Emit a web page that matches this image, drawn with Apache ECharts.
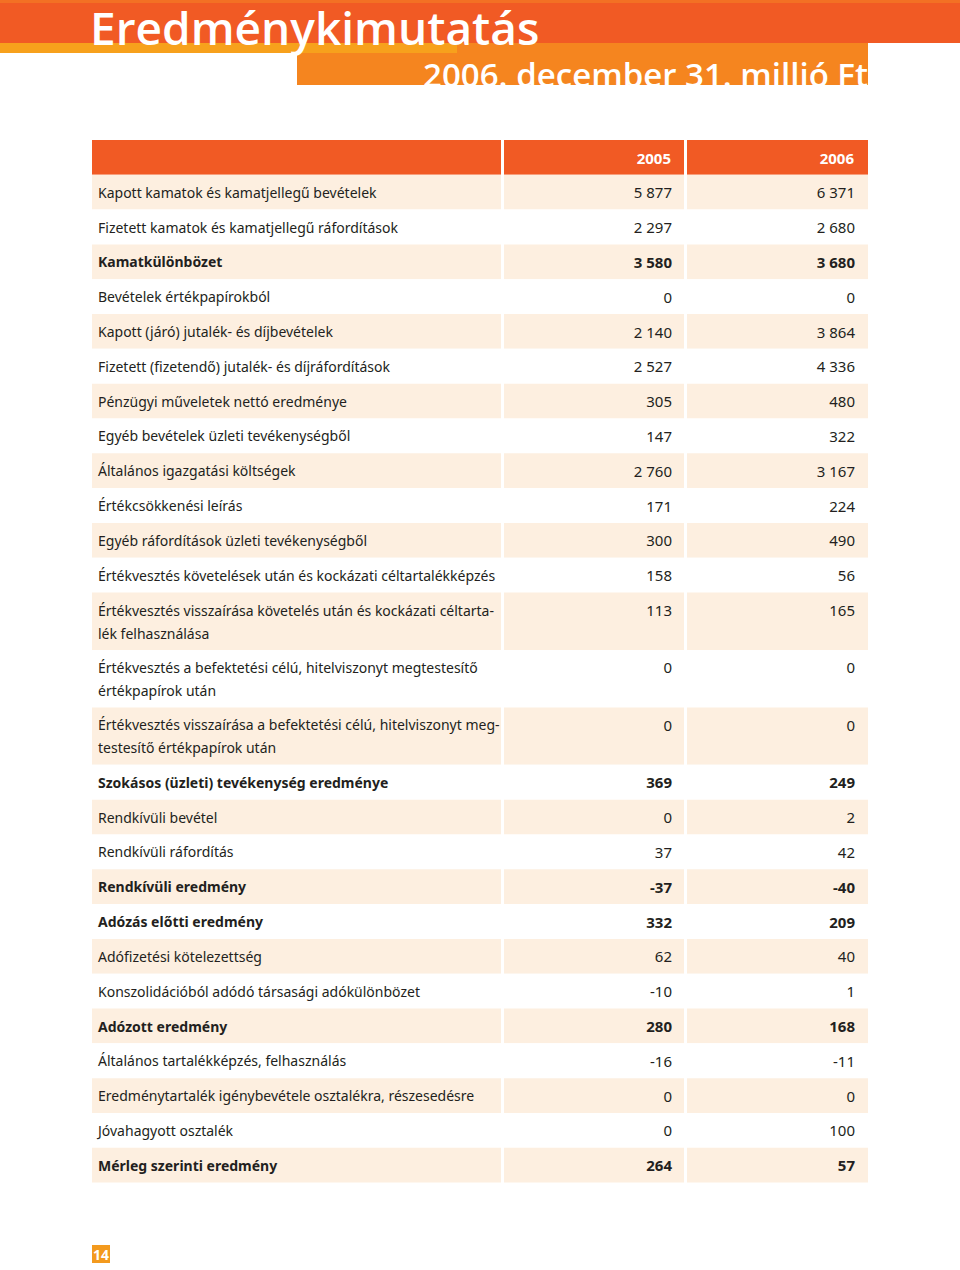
<!DOCTYPE html>
<html><head><meta charset="utf-8">
<script src="https://cdn.jsdelivr.net/npm/echarts@6/dist/echarts.min.js"></script>
<style>html,body{margin:0;padding:0;background:#fff}#c{width:960px;height:1270px}</style>
</head><body><div id="c"></div>
<script>
const titleText = 'Eredménykimutatás';
const subtitleText = '2006. december 31. millió Ft';
const pageNumber = '14';
const yearLabels = ['2005', '2006'];
const rowLabels = [
  'Kapott kamatok és kamatjellegű bevételek',
  'Fizetett kamatok és kamatjellegű ráfordítások',
  'Kamatkülönbözet',
  'Bevételek értékpapírokból',
  'Kapott (járó) jutalék- és díjbevételek',
  'Fizetett (fizetendő) jutalék- és díjráfordítások',
  'Pénzügyi műveletek nettó eredménye',
  'Egyéb bevételek üzleti tevékenységből',
  'Általános igazgatási költségek',
  'Értékcsökkenési leírás',
  'Egyéb ráfordítások üzleti tevékenységből',
  'Értékvesztés követelések után és kockázati céltartalékképzés',
  'Értékvesztés visszaírása követelés után és kockázati céltarta-\nlék felhasználása',
  'Értékvesztés a befektetési célú, hitelviszonyt megtestesítő\nértékpapírok után',
  'Értékvesztés visszaírása a befektetési célú, hitelviszonyt meg-\ntestesítő értékpapírok után',
  'Szokásos (üzleti) tevékenység eredménye',
  'Rendkívüli bevétel',
  'Rendkívüli ráfordítás',
  'Rendkívüli eredmény',
  'Adózás előtti eredmény',
  'Adófizetési kötelezettség',
  'Konszolidációból adódó társasági adókülönbözet',
  'Adózott eredmény',
  'Általános tartalékképzés, felhasználás',
  'Eredménytartalék igénybevétele osztalékra, részesedésre',
  'Jóvahagyott osztalék',
  'Mérleg szerinti eredmény'
];
const values2005 = [5877, 2297, 3580, 0, 2140, 2527, 305, 147, 2760, 171, 300, 158, 113, 0, 0, 369, 0, 37, -37, 332, 62, -10, 280, -16, 0, 0, 264];
const values2006 = [6371, 2680, 3680, 0, 3864, 4336, 480, 322, 3167, 224, 490, 56, 165, 0, 0, 249, 2, 42, -40, 209, 40, 1, 168, -11, 0, 100, 57];
const boldRows = [2, 15, 18, 19, 22, 26];

const ORANGE = '#f15a24', BEIGE = '#fdefe0', INK = '#231f20';
const FONT = '"Noto Sans", "Open Sans", sans-serif';
const HEADER_UNITS = 1, LINE_EXTRA = 0.65, UNIT_PX = 34.81;
const COLS = [[0, 409], [412, 592], [595, 776]];

function fmt(n) {
  const s = Math.abs(n).toString().replace(/\B(?=(\d{3})+(?!\d))/g, ' ');
  return (n < 0 ? '-' : '') + s;
}

const spans = [];
let acc = HEADER_UNITS;
rowLabels.forEach(l => {
  const h = 1 + LINE_EXTRA * (l.split('\n').length - 1);
  spans.push([acc, acc + h]);
  acc += h;
});
const totalUnits = acc;

const bodyData = rowLabels.map((l, i) => [i, spans[i][0], spans[i][1]]);
const headerData = [[0, 0, HEADER_UNITS]];

function colRects(api, top, bot, fill) {
  return COLS.map(c => {
    const x0 = api.coord([c[0], 0])[0], x1 = api.coord([c[1], 0])[0];
    return { type: 'rect', shape: { x: x0, y: top, width: x1 - x0, height: bot - top }, style: { fill: fill } };
  });
}

function renderBody(params, api) {
  const i = api.value(0);
  const top = api.coord([0, api.value(1)])[1];
  const bot = api.coord([0, api.value(2)])[1];
  const fill = i % 2 === 0 ? BEIGE : '#ffffff';
  const bold = boldRows.indexOf(i) >= 0 ? 'bold' : 'normal';
  const children = colRects(api, top, bot, fill);
  const lx = api.coord([COLS[0][0], 0])[0] + 6;
  children.push({ type: 'text', style: { text: rowLabels[i], x: lx, y: top + 6, fill: INK,
    fontSize: 14, fontFamily: FONT, fontWeight: bold, align: 'left', verticalAlign: 'top', lineHeight: 23 } });
  [values2005, values2006].forEach((arr, k) => {
    const rx = api.coord([COLS[k + 1][1], 0])[0] - (k === 0 ? 12 : 13);
    children.push({ type: 'text', style: { text: fmt(arr[i]), x: rx, y: top + 6, fill: INK,
      fontSize: 15, fontFamily: FONT, fontWeight: bold, align: 'right', verticalAlign: 'top', lineHeight: 23 } });
  });
  return { type: 'group', children: children };
}

function renderHeader(params, api) {
  const top = api.coord([0, api.value(1)])[1];
  const bot = api.coord([0, api.value(2)])[1];
  const children = colRects(api, top, bot, ORANGE);
  yearLabels.forEach((y, k) => {
    const rx = api.coord([COLS[k + 1][1], 0])[0] - (k === 0 ? 13 : 14);
    children.push({ type: 'text', style: { text: y, x: rx, y: top + 6, fill: '#ffffff',
      fontSize: 15, fontFamily: FONT, fontWeight: 'bold', align: 'right', verticalAlign: 'top', lineHeight: 23 } });
  });
  return { type: 'group', children: children };
}

const chart = echarts.init(document.getElementById('c'), null, { renderer: 'svg' });
chart.setOption({
  animation: false,
  backgroundColor: '#ffffff',
  title: [
    { text: titleText, left: 90, top: 4, padding: 0, z: 10,
      textStyle: { color: '#ffffff', fontFamily: '"Open Sans", sans-serif', fontWeight: 600, fontSize: 46 } },
    { text: subtitleText, right: 92, top: 58, padding: 0, z: 10,
      textStyle: { color: '#ffffff', fontFamily: '"Open Sans", sans-serif', fontWeight: 600, fontSize: 33 } }
  ],
  graphic: [
    { type: 'rect', z: 0, shape: { x: 0, y: 0, width: 960, height: 43 }, style: { fill: ORANGE } },
    { type: 'rect', z: 0, shape: { x: 0, y: 0, width: 960, height: 3 }, style: { fill: '#f37024' } },
    { type: 'rect', z: 0, shape: { x: 297, y: 43, width: 571, height: 42 }, style: { fill: '#f5851f' } },
    { type: 'rect', z: 0, shape: { x: 0, y: 43, width: 457, height: 10 }, style: { fill: '#f7a11c' } },
    { type: 'rect', z: 0, shape: { x: 92, y: 1245, width: 18, height: 18 }, style: { fill: '#f39a1e' } },
    { type: 'text', z: 1, style: { text: pageNumber, x: 101, y: 1254, fill: '#ffffff', fontSize: 14,
      fontFamily: FONT, fontWeight: 'bold', align: 'center', verticalAlign: 'middle' } }
  ],
  grid: { left: 92, top: 140, width: 776, height: totalUnits * UNIT_PX, containLabel: false },
  xAxis: { type: 'value', min: 0, max: 776, show: false },
  yAxis: { type: 'value', min: 0, max: totalUnits, inverse: true, show: false },
  series: [
    { type: 'custom', renderItem: renderHeader, data: headerData, encode: { y: [1, 2] }, clip: false, silent: true },
    { type: 'custom', renderItem: renderBody, data: bodyData, encode: { y: [1, 2] }, clip: false, silent: true }
  ]
});
</script>
</body></html>
